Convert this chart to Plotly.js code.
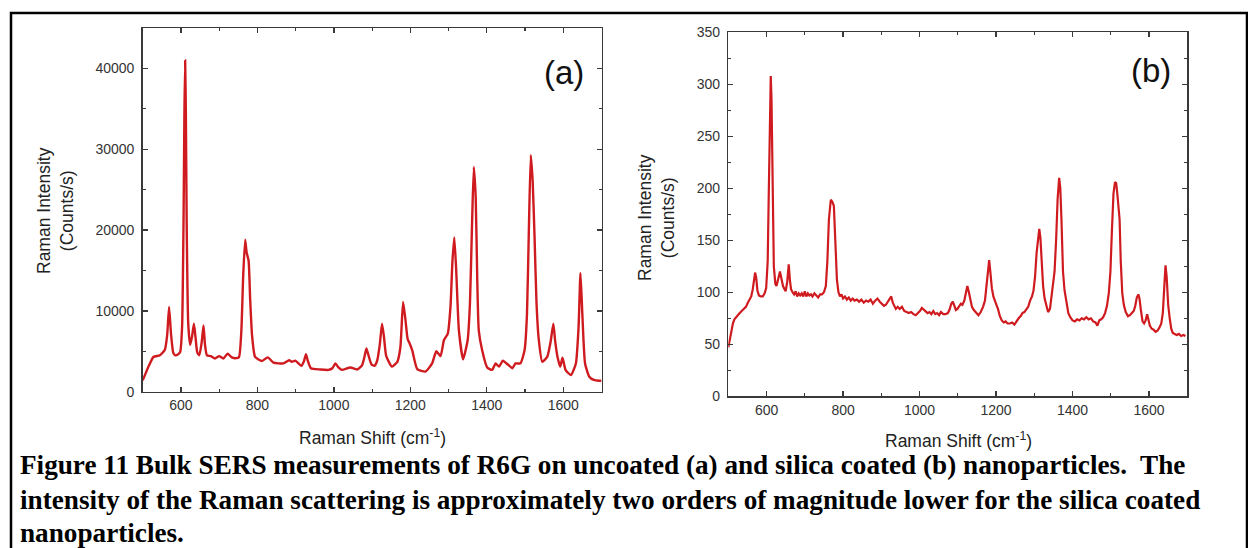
<!DOCTYPE html>
<html>
<head>
<meta charset="utf-8">
<script src="https://cdn.plot.ly/plotly-3.0.1.min.js"></script>
<style>
html,body{margin:0;padding:0;background:#fff;}
#chart{width:1248px;height:548px;}
</style>
</head>
<body>
<div id="chart"></div>
<script>
// Panel (a): uncoated nanoparticles
var aShift = [500,508,516,528,545,558,564,569,574,580,585,592,598,603,607,609,611,613,615,619,624,629,634,638,643,648,654,659,663,668,678,689,700,711,722,733,745,752,758,763,768,772,777,781,786,794,812,827,842,868,883,890,899,915,922,927,932,940,964,986,996,1004,1012,1021,1043,1061,1074,1080,1085,1090,1098,1106,1113,1120,1126,1131,1137,1152,1166,1174,1181,1187,1193,1198,1205,1218,1240,1257,1268,1279,1288,1298,1305,1310,1315,1320,1327,1338,1350,1356,1361,1366,1371,1375,1379,1388,1401,1414,1423,1432,1442,1454,1467,1475,1488,1499,1505,1510,1515,1520,1525,1530,1536,1545,1558,1567,1574,1579,1585,1592,1598,1606,1620,1633,1640,1645,1650,1657,1668,1680,1694,1700];
var aIntensity = [1400,2300,3200,4300,4500,5200,7000,10500,7200,4800,4500,4600,4900,8000,22000,34000,41000,34000,21000,8500,5800,6800,8400,6800,4800,4500,6000,8200,5800,4500,4400,4100,4400,4100,4700,4250,4150,4300,7500,14500,18800,17200,16200,11500,7000,4300,3800,4250,3600,3500,3900,3700,3850,3200,3800,4650,3800,2900,2750,2700,2900,3500,3000,2700,3000,2750,3300,4300,5350,4600,3400,3200,3800,5800,8400,6800,4400,3100,3700,5500,11100,9000,6500,6000,5100,2800,2500,3500,5000,4400,6400,7200,10500,16000,19100,15000,7600,4000,6400,11000,20000,27800,24000,14000,7600,5100,3000,2700,3500,3100,3850,3400,2900,3500,3500,5200,9500,20000,29300,26000,19000,11000,6400,3700,4300,6200,8400,6200,4300,3100,4200,2700,2050,3500,8000,14700,9500,3500,1850,1450,1350,1350];

// Panel (b): silica coated nanoparticles
var bShift = [500,504,508,512,516,520,525,530,535,540,546,551,556,560,564,567,570,573,576,580,585,590,595,599,603,606,609,611,613,616,619,623,626,630,635,639,643,647,650,654,658,661,664,668,672,676,680,684,688,692,696,700,704,708,712,716,720,725,730,735,740,745,750,755,759,763,768,772,776,780,784,788,792,796,800,805,810,815,820,825,830,836,842,848,854,860,866,872,878,884,890,896,902,907,912,918,922,926,930,934,938,943,948,954,960,966,972,978,984,990,996,1001,1006,1011,1016,1021,1026,1031,1036,1041,1046,1051,1056,1062,1068,1074,1078,1083,1087,1091,1095,1099,1104,1108,1112,1117,1121,1125,1129,1133,1137,1142,1148,1154,1160,1166,1171,1175,1179,1182,1185,1189,1193,1197,1201,1205,1210,1215,1220,1225,1230,1236,1242,1248,1254,1259,1264,1269,1274,1279,1284,1289,1294,1298,1302,1306,1310,1313,1316,1319,1323,1327,1331,1336,1341,1345,1349,1353,1357,1361,1365,1368,1371,1375,1379,1384,1389,1394,1400,1406,1412,1418,1424,1430,1436,1442,1448,1454,1460,1465,1470,1475,1480,1485,1490,1495,1499,1503,1507,1511,1514,1517,1520,1523,1526,1530,1534,1539,1545,1550,1555,1560,1564,1568,1572,1575,1579,1583,1587,1591,1595,1598,1602,1607,1612,1617,1622,1627,1632,1636,1640,1643,1646,1650,1654,1658,1662,1666,1672,1678,1684,1690,1695];
var bIntensity = [47,55,62,70,74,76,78,80,82,84,86,90,93,96,103,113,119,114,102,97,96,96,99,104,130,200,285,308,285,190,125,108,106,112,120,113,106,103,101,110,127,112,103,100,98,101,96,99,97,99,96,101,96,99,97,98,96,99,97,95,98,98,100,106,130,170,189,187,183,150,112,100,96,98,94,96,93,95,92,94,92,93,91,93,90,92,91,93,89,92,94,91,89,87,88,91,93,96,90,86,84,86,84,86,82,81,80,81,79,78,80,82,85,83,81,80,81,79,82,79,80,78,81,79,79,80,83,89,91,86,83,84,87,89,88,92,99,106,100,91,86,83,80,78,81,86,92,105,124,131,120,104,96,91,88,84,77,73,71,72,70,70,71,69,73,75,77,80,81,84,86,92,96,102,115,138,156,161,152,125,106,94,87,81,84,95,105,120,150,190,210,200,170,120,102,90,80,76,73,72,74,73,75,74,76,74,75,72,71,68,73,74,76,80,87,100,120,160,195,206,205,195,181,170,130,99,88,81,77,78,80,82,87,95,98,94,82,72,70,73,79,75,68,65,64,62,63,66,70,80,108,126,115,88,75,65,61,60,59,60,58,59,58];

var xTickVals = [600,800,1000,1200,1400,1600];
var aTickVals = [0,10000,20000,30000,40000];
var bTickVals = [0,50,100,150,200,250,300,350];

var W = 1248, H = 548;
function px(x){return x/W;}
function py(y){return 1 - y/H;}

var lineColor = '#cf1b1f';
var axisColor = '#3a3a3a';
var tickFont = {family:'Liberation Sans, Arial, sans-serif', size:14, color:'#333'};

var traces = [
  {x:aShift, y:aIntensity, xaxis:'x', yaxis:'y', type:'scatter', mode:'lines',
   line:{color:lineColor, width:2.4, shape:'spline', smoothing:0.5}, showlegend:false, hoverinfo:'skip'},
  {x:bShift, y:bIntensity, xaxis:'x2', yaxis:'y2', type:'scatter', mode:'lines',
   line:{color:lineColor, width:2.2}, showlegend:false, hoverinfo:'skip'}
];

function xAxis(domain, anchor){
  return {domain:domain, anchor:anchor, range:[500,1700], tickmode:'array', tickvals:xTickVals,
    ticks:'inside', ticklen:5, tickwidth:1.3, tickcolor:axisColor,
    showline:true, linecolor:axisColor, linewidth:1.5, mirror:'ticks',
    minor:{tickmode:'linear', tick0:500, dtick:100, ticks:'inside', ticklen:3, tickwidth:1.2, tickcolor:axisColor, showgrid:false},
    showgrid:false, zeroline:false, tickfont:tickFont, ticklabelstandoff:0};
}
function yAxis(domain, anchor, range, vals, minorStep){
  return {domain:domain, anchor:anchor, range:range, tickmode:'array', tickvals:vals, tickformat:'d',
    ticks:'inside', ticklen:5, tickwidth:1.3, tickcolor:axisColor,
    showline:true, linecolor:axisColor, linewidth:1.5, mirror:'ticks',
    minor:{tickmode:'linear', tick0:0, dtick:minorStep, ticks:'inside', ticklen:3, tickwidth:1.2, tickcolor:axisColor, showgrid:false},
    showgrid:false, zeroline:false, tickfont:tickFont, ticklabelstandoff:4};
}

var ann = [];
var titleFont = {family:'Liberation Sans, Arial, sans-serif', size:17.5, color:'#222'};
ann.push({xref:'paper', yref:'paper', x:px(372), y:py(437), text:'Raman Shift (cm<sup>-1</sup>)', showarrow:false, font:titleFont, xanchor:'center', yanchor:'middle'});
ann.push({xref:'paper', yref:'paper', x:px(958), y:py(440), text:'Raman Shift (cm<sup>-1</sup>)', showarrow:false, font:titleFont, xanchor:'center', yanchor:'middle'});
ann.push({xref:'paper', yref:'paper', x:px(55), y:py(211), text:'Raman Intensity<br>(Counts/s)', textangle:-90, showarrow:false, font:titleFont, xanchor:'center', yanchor:'middle'});
ann.push({xref:'paper', yref:'paper', x:px(656), y:py(218), text:'Raman Intensity<br>(Counts/s)', textangle:-90, showarrow:false, font:titleFont, xanchor:'center', yanchor:'middle'});
ann.push({xref:'paper', yref:'paper', x:px(564), y:py(72), text:'(a)', showarrow:false, font:{family:'Liberation Sans, Arial, sans-serif', size:33, color:'#111'}, xanchor:'center', yanchor:'middle'});
ann.push({xref:'paper', yref:'paper', x:px(1151), y:py(71), text:'(b)', showarrow:false, font:{family:'Liberation Sans, Arial, sans-serif', size:33, color:'#111'}, xanchor:'center', yanchor:'middle'});

var capFont = {family:'Liberation Serif, Times New Roman, serif', size:27.2, color:'#000'};
var capLines = [
  ['<b>Figure 11 Bulk SERS measurements of R6G on uncoated (a) and silica coated (b) nanoparticles.  The</b>', 465],
  ['<b>intensity of the Raman scattering is approximately two orders of magnitude lower for the silica coated</b>', 500],
  ['<b>nanoparticles.</b>', 533]
];
capLines.forEach(function(l){
  ann.push({xref:'paper', yref:'paper', x:px(18), y:py(l[1]), text:l[0], showarrow:false, font:capFont, xanchor:'left', yanchor:'middle'});
});

var layout = {
  width:W, height:H, margin:{l:0,r:0,t:0,b:0},
  paper_bgcolor:'#ffffff', plot_bgcolor:'#ffffff',
  showlegend:false,
  xaxis: xAxis([px(142.7), px(601.5)], 'y'),
  yaxis: yAxis([py(391.7), py(28)], 'x', [0,45000], aTickVals, 5000),
  xaxis2: xAxis([px(728.3), px(1187.3)], 'y2'),
  yaxis2: yAxis([py(396.3), py(32.3)], 'x2', [0,350], bTickVals, 25),
  annotations: ann,
  shapes:[
    {type:'rect', xref:'paper', yref:'paper', x0:px(11), x1:px(1247), y0:py(550), y1:py(13), line:{color:'#000', width:2.5}, fillcolor:'rgba(0,0,0,0)'}
  ]
};

Plotly.newPlot('chart', traces, layout, {staticPlot:true, displayModeBar:false});
</script>
</body>
</html>
